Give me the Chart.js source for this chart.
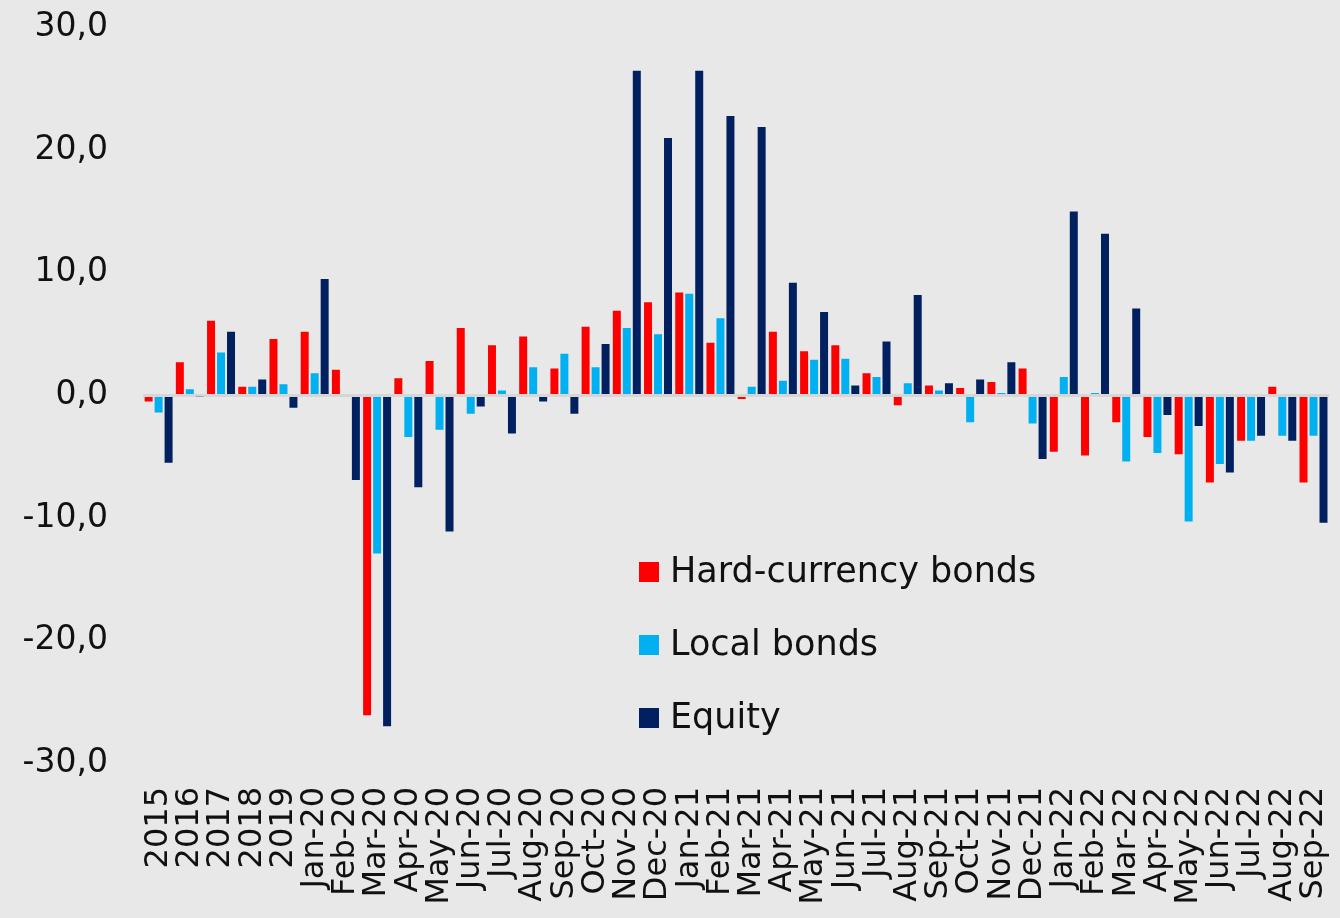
<!DOCTYPE html>
<html>
<head>
<meta charset="utf-8">
<script src="https://cdn.jsdelivr.net/npm/chart.js@4"></script>
<style>
  html, body { margin: 0; padding: 0; background: #e8e8e8; overflow: hidden; }
  body { width: 1340px; height: 918px; position: relative; }
  #wrap { width: 1376px; height: 945px; position: absolute; left: 0; top: -27px; }
</style>
</head>
<body>
<div id="wrap"><canvas id="flows"></canvas></div>
<script>
// categories and series
const months = ['2015', '2016', '2017', '2018', '2019',
  'Jan-20', 'Feb-20', 'Mar-20', 'Apr-20', 'May-20', 'Jun-20', 'Jul-20', 'Aug-20', 'Sep-20', 'Oct-20', 'Nov-20', 'Dec-20',
  'Jan-21', 'Feb-21', 'Mar-21', 'Apr-21', 'May-21', 'Jun-21', 'Jul-21', 'Aug-21', 'Sep-21', 'Oct-21', 'Nov-21', 'Dec-21',
  'Jan-22', 'Feb-22', 'Mar-22', 'Apr-22', 'May-22', 'Jun-22', 'Jul-22', 'Aug-22', 'Sep-22'];

const hardCurrency = [-0.5, 2.7, 6.1, 0.7, 4.6,
  5.2, 2.1, -26.1, 1.4, 2.8, 5.5, 4.1, 4.8, 2.2, 5.6, 6.9, 7.6,
  8.4, 4.3, -0.3, 5.2, 3.6, 4.1, 1.8, -0.8, 0.8, 0.6, 1.1, 2.2,
  -4.6, -4.9, -2.2, -3.4, -4.8, -7.1, -3.7, 0.7, -7.1];

const localBonds = [-1.4, 0.5, 3.5, 0.7, 0.9,
  1.8, 0, -12.9, -3.4, -2.8, -1.5, 0.4, 2.3, 3.4, 2.3, 5.5, 5.0,
  8.3, 6.3, 0.7, 1.2, 2.9, 3.0, 1.5, 1.0, 0.4, -2.2, 0.2, -2.3,
  1.5, 0.2, -5.4, -4.7, -10.3, -5.6, -3.7, -3.3, -3.3];

const equity = [-5.5, -0.1, 5.2, 1.3, -1.0,
  9.5, -6.9, -27.0, -7.5, -11.1, -0.9, -3.1, -0.5, -1.5, 4.2, 26.5, 21.0,
  26.5, 22.8, 21.9, 9.2, 6.8, 0.8, 4.4, 8.2, 1.0, 1.3, 2.7, -5.2,
  15.0, 13.2, 7.1, -1.6, -2.5, -6.3, -3.3, -3.7, -10.4];

const seriesNames = ['Hard-currency bonds', 'Local bonds', 'Equity'];
const seriesColors = ['#ff0000', '#00b0f0', '#002060'];

const fontFamily = '"DejaVu Sans", sans-serif';

// legend drawn inside the plot, lower middle (canvas is shifted up 27px)
const insideLegend = {
  id: 'insideLegend',
  afterDraw(chart) {
    const c = chart.ctx;
    c.save();
    c.font = '35px ' + fontFamily;
    c.textBaseline = 'middle';
    chart.data.datasets.forEach((ds, i) => {
      const y = 27 + 572 + i * 73;
      c.fillStyle = ds.backgroundColor;
      c.fillRect(639, y - 10, 20, 20);
      c.fillStyle = '#111';
      c.fillText(ds.label, 670, y + 1);
    });
    c.restore();
  }
};

const ctx = document.getElementById('flows').getContext('2d');
new Chart(ctx, {
  type: 'bar',
  data: {
    labels: months,
    datasets: [
      { label: seriesNames[0], data: hardCurrency, backgroundColor: seriesColors[0] },
      { label: seriesNames[1], data: localBonds, backgroundColor: seriesColors[1] },
      { label: seriesNames[2], data: equity, backgroundColor: seriesColors[2] }
    ]
  },
  options: {
    responsive: true,
    maintainAspectRatio: false,
    animation: false,
    datasets: { bar: { barPercentage: 0.8, categoryPercentage: 0.96 } },
    layout: { padding: { top: 25, right: 7, left: 0, bottom: 0 } },
    plugins: {
      legend: { display: false },
      tooltip: { enabled: false }
    },
    scales: {
      x: {
        grid: { display: false, drawTicks: false },
        border: { display: false },
        ticks: {
          autoSkip: false,
          maxRotation: 90,
          minRotation: 90,
          padding: 24,
          color: '#111',
          font: { family: fontFamily, size: 32 }
        },
        afterFit(scale) { scale.height = 155; }
      },
      y: {
        min: -30,
        max: 30,
        border: { display: false },
        grid: {
          drawTicks: false,
          color: c => c.tick && c.tick.value === 0 ? '#d6d6d6' : 'transparent',
          lineWidth: c => c.tick && c.tick.value === 0 ? 3 : 0
        },
        ticks: {
          stepSize: 10,
          padding: 35,
          color: '#111',
          font: { family: fontFamily, size: 33 },
          callback: v => v.toFixed(1).replace('.', ',')
        },
        afterFit(scale) { scale.width = 143; }
      }
    }
  },
  plugins: [insideLegend]
});
</script>
</body>
</html>
